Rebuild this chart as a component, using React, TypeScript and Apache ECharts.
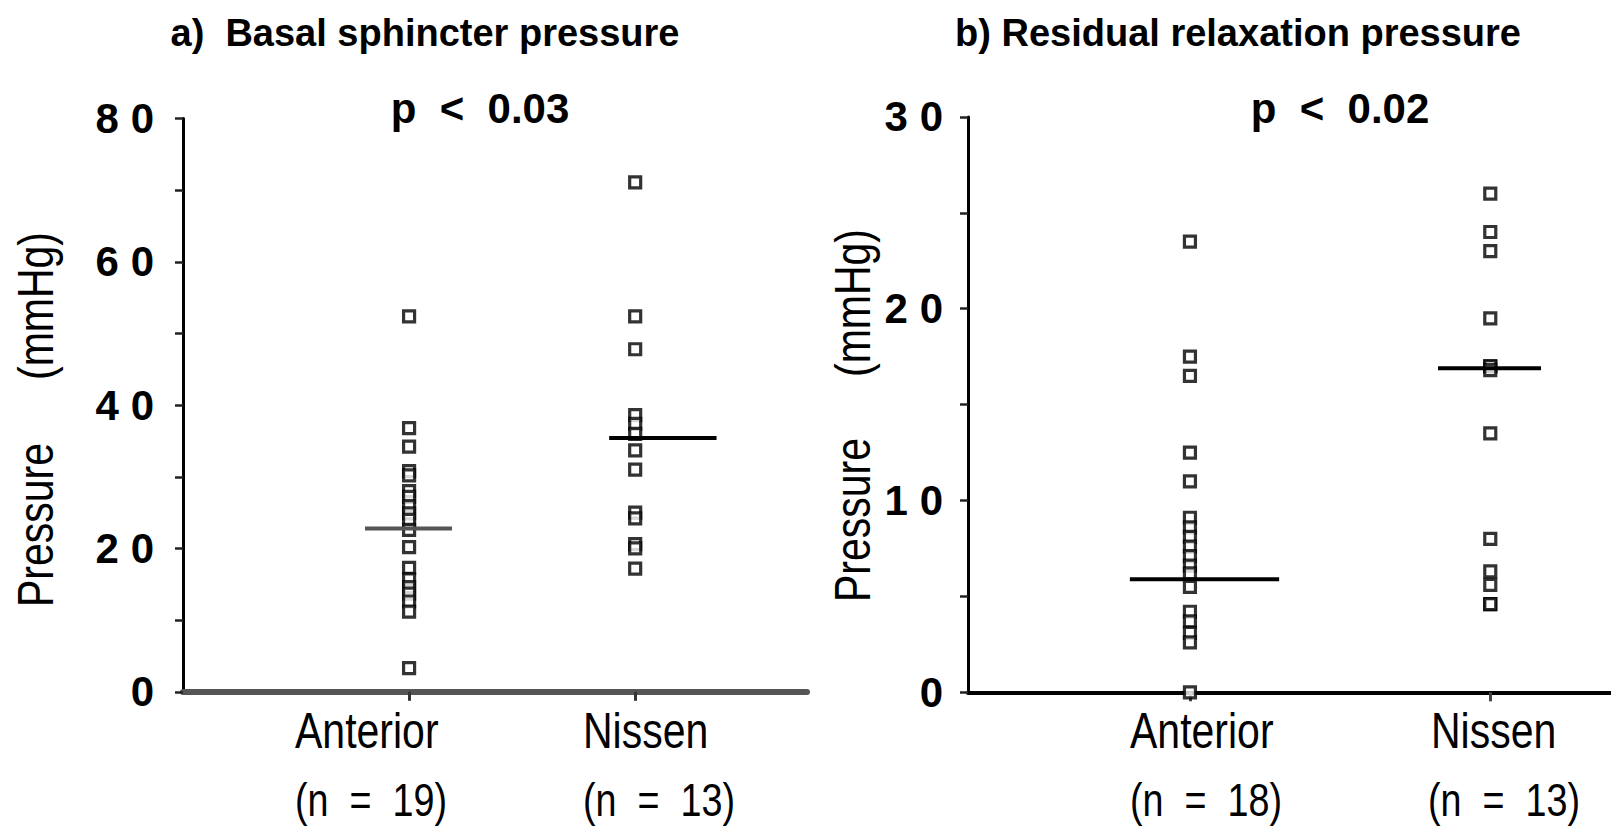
import React, { useEffect, useRef } from 'react';
import * as echarts from 'echarts';

// ---- data ----
const groups = ['Anterior', 'Nissen'];
const basalCounts = ['(n  =  19)', '(n  =  13)'];
const residualCounts = ['(n  =  18)', '(n  =  13)'];

const basalAnterior = [52.4, 36.8, 34.2, 30.8, 30.2, 28.0, 27.2, 25.9, 24.9, 24.0, 22.6, 20.2, 17.3, 15.7, 14.6, 13.7, 12.6, 11.2, 3.3];
const basalNissen = [71.1, 52.4, 47.8, 38.6, 37.4, 36.0, 33.7, 31.0, 25.0, 24.2, 20.6, 20.0, 17.2];
const basalMedians = [22.8, 35.4];

const residualAnterior = [23.5, 17.5, 16.5, 12.5, 11.0, 9.1, 8.6, 8.1, 7.6, 7.1, 6.6, 6.2, 5.5, 4.2, 3.7, 3.1, 2.6, 0];
const residualNissen = [26.0, 24.0, 23.0, 19.5, 17.0, 17.0, 16.8, 13.5, 8.0, 6.3, 5.6, 4.6, 4.6];
const residualMedians = [5.9, 16.9];

const basalTicks = [0, 20, 40, 60, 80];
const residualTicks = [0, 10, 20, 30];

const titles = ['a)  Basal sphincter pressure', 'b) Residual relaxation pressure'];
const pValues = ['p  <  0.03', 'p  <  0.02'];

// ---- style constants ----
const FONT = '"Liberation Sans", Arial, Helvetica, sans-serif';
const INK = '#000';

export default function App() {
  const ref = useRef<HTMLDivElement>(null);

  useEffect(() => {
    if (!ref.current) return;
    const chart = echarts.init(ref.current, null, { renderer: 'svg' });

    const spaced = (v: number) => String(v).split('').join(' ');

    const pointStyle = { color: '#fff', borderColor: INK, borderWidth: 3.2 };
    const scatter = (xi: number, xPos: number, vals: number[]) => ({
      type: 'scatter',
      xAxisIndex: xi,
      yAxisIndex: xi,
      symbol: 'rect',
      symbolSize: 11,
      itemStyle: pointStyle,
      data: vals.map((v) => [xPos, v]),
      z: 3,
    });
    const median = (xi: number, x0: number, x1: number, v: number, color: string) => ({
      type: 'line',
      xAxisIndex: xi,
      yAxisIndex: xi,
      symbol: 'none',
      lineStyle: { color, width: 4 },
      data: [[x0, v], [x1, v]],
      z: 4,
    });

    const yAxisBase = (max: number, interval: number, ticks: number[], margin: number) => ({
      type: 'value',
      min: 0,
      max,
      interval,
      axisLine: { show: true, onZero: false, lineStyle: { color: INK, width: 3 } },
      axisTick: { show: true, length: 8, lineStyle: { color: '#222', width: 2.5 } },
      axisLabel: {
        margin,
        fontSize: 42,
        fontWeight: 'bold',
        color: INK,
        fontFamily: FONT,
        formatter: (v: number) => (ticks.indexOf(v) >= 0 ? spaced(v) : ''),
      },
      splitLine: { show: false },
    });

    const txt = (text: string, x: number, y: number, size: number, opts: any = {}) => ({
      type: 'text',
      x,
      y,
      rotation: opts.rotation || 0,
      scaleX: opts.scaleX || 1,
      style: {
        text,
        fontSize: size,
        fontWeight: opts.bold ? 'bold' : 'normal',
        fontFamily: FONT,
        fill: INK,
        align: opts.align || 'center',
        verticalAlign: 'middle',
      },
    });

    const NARROW = 0.82;

    chart.setOption({
      animation: false,
      backgroundColor: '#fff',
      grid: [
        { left: 183, right: 804, top: 118.5, bottom: 136.2 },
        { left: 968, right: 0, top: 116.9, bottom: 135.7 },
      ],
      xAxis: [
        {
          gridIndex: 0,
          type: 'value',
          min: 0,
          max: 2.76,
          axisLine: { show: true, onZero: false, lineStyle: { color: '#555', width: 6 } },
          axisTick: { show: true, customValues: [1, 2], length: 9, lineStyle: { color: '#333', width: 3 } },
          axisLabel: { show: false },
          splitLine: { show: false },
        },
        {
          gridIndex: 1,
          type: 'value',
          min: 0.261,
          max: 2.402,
          axisLine: { show: true, onZero: false, lineStyle: { color: INK, width: 4 } },
          axisTick: { show: true, customValues: [1, 2], length: 9, lineStyle: { color: '#444', width: 3 } },
          axisLabel: { show: false },
          splitLine: { show: false },
        },
      ],
      yAxis: [
        { gridIndex: 0, ...yAxisBase(80, 10, basalTicks, 29) },
        { gridIndex: 1, ...yAxisBase(30, 5, residualTicks, 25) },
      ],
      series: [
        scatter(0, 1, basalAnterior),
        scatter(0, 2, basalNissen),
        median(0, 0.805, 1.19, basalMedians[0], '#555'),
        median(0, 1.885, 2.36, basalMedians[1], INK),
        scatter(1, 1, residualAnterior),
        scatter(1, 2, residualNissen),
        median(1, 0.8, 1.297, residualMedians[0], INK),
        median(1, 1.826, 2.169, residualMedians[1], INK),
      ],
      graphic: [
        txt(titles[0], 425, 33, 38, { bold: true }),
        txt(titles[1], 1238, 33, 38, { bold: true }),
        txt(pValues[0], 480, 108, 42, { bold: true }),
        txt(pValues[1], 1340, 108, 42, { bold: true }),
        // y-axis titles
        txt('Pressure', 36, 525, 50, { rotation: Math.PI / 2, scaleX: NARROW }),
        txt('(mmHg)', 36, 306, 50, { rotation: Math.PI / 2, scaleX: NARROW }),
        txt('Pressure', 853, 520, 50, { rotation: Math.PI / 2, scaleX: NARROW }),
        txt('(mmHg)', 853, 303, 50, { rotation: Math.PI / 2, scaleX: NARROW }),
        // category labels
        txt(groups[0], 295, 731, 50, { align: 'left', scaleX: NARROW }),
        txt(basalCounts[0], 295, 800, 46, { align: 'left', scaleX: NARROW }),
        txt(groups[1], 583, 731, 50, { align: 'left', scaleX: NARROW }),
        txt(basalCounts[1], 583, 800, 46, { align: 'left', scaleX: NARROW }),
        txt(groups[0], 1130, 731, 50, { align: 'left', scaleX: NARROW }),
        txt(residualCounts[0], 1130, 800, 46, { align: 'left', scaleX: NARROW }),
        txt(groups[1], 1431, 731, 50, { align: 'left', scaleX: NARROW }),
        txt(residualCounts[1], 1428, 800, 46, { align: 'left', scaleX: NARROW }),
      ],
    });

    return () => chart.dispose();
  }, []);

  return (
    <div
      ref={ref}
      style={{ position: 'fixed', left: 0, top: 0, width: 1611, height: 828, background: '#fff' }}
    />
  );
}
